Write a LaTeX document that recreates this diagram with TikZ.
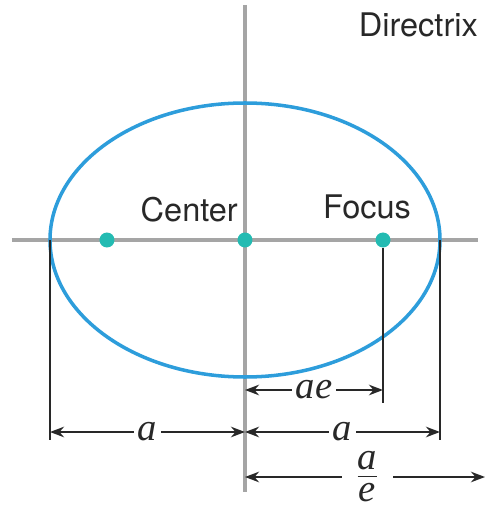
\documentclass[tikz,border=0pt]{standalone}
\usepackage{fontspec}
\setmainfont{TeX Gyre Heros}
\newfontfamily\dimfont{Liberation Serif}
\usetikzlibrary{arrows.meta}
\definecolor{ellblue}{RGB}{45,157,219}
\definecolor{dotteal}{RGB}{35,187,178}
\definecolor{axisgray}{RGB}{165,165,165}
\definecolor{dimgray}{RGB}{40,40,40}
\newcommand{\dimtxt}[1]{\mbox{\dimfont\itshape\fontsize{22}{26}\selectfont #1}}
\tikzset{
  axisline/.style={axisgray, line width=2pt},
  dimline/.style={dimgray, line width=1.2pt},
  dimlabel/.style={fill=white, inner sep=2pt, text=dimgray, font=\dimfont\itshape\fontsize{22}{26}\selectfont},
  pt/.style={circle, fill=dotteal, inner sep=0pt, minimum size=0.3cm},
  lbl/.style={font=\fontsize{18.5}{22}\selectfont, text=dimgray}
}
\begin{document}
\begin{tikzpicture}[>={Stealth[length=8pt,width=6pt]}]
    \useasboundingbox (-4.9,-5.36) rectangle (4.84,4.8);
    % axes
    \draw[axisline] (-4.66,0) -- (4.66,0);
    \draw[axisline] (0,4.7) -- (0,-5.04);
    % the ellipse
    \draw[ellblue, line width=2pt] (0,0) ellipse (3.9 and 2.74);
    \node[pt] (F1) at (-2.76,0) {};
    \node[pt] (C) at (0,0) {};
    \node[pt] (F2) at (2.76,0) {};
    \coordinate (V1) at (-3.9,0);
    \coordinate (V2) at (3.9,0);
    % drop lines
    \coordinate (V1b) at (-3.9,-4.0);
    \coordinate (V2b) at (3.9,-4.0);
    \coordinate (F2b) at (2.76,-3.26);
    \draw[dimline] (V1) -- (V1b);
    \draw[dimline] (V2) -- (V2b);
    \draw[dimline] (F2) -- (F2b);
    % dimensions
    \coordinate (ae0) at (0,-3.0);
    \coordinate (ae1) at (2.76,-3.0);
    \coordinate (aL0) at (-3.9,-3.84);
    \coordinate (aL1) at (0,-3.84);
    \coordinate (aR1) at (3.9,-3.84);
    \coordinate (ad0) at (0,-4.74);
    \coordinate (ad1) at (4.8,-4.74);
    \draw[dimline,<->] (ae0) -- node[dimlabel] (aelbl) {ae} (ae1);
    \draw[dimline,<->] (aL0) -- node[dimlabel] (alblL) {a} (aL1);
    \draw[dimline,<->] (aL1) -- node[dimlabel] (alblR) {a} (aR1);
    \draw[dimline,<->] (ad0) -- node[dimlabel, inner xsep=8pt, inner ysep=0pt, pos=0.51]
      (adlbl) {$\frac{\dimtxt{a\rule[-3pt]{0pt}{3pt}}}{\dimtxt{\rule{0pt}{14pt}e}}$} (ad1);
    % labels
    \node[lbl, anchor=east] (dirlbl) at (4.78,4.3) {Directrix};
    \node[lbl, anchor=east] (ctrlbl) at (-0.02,0.6) {Center};
    \node[lbl] (foclbl) at (2.44,0.66) {Focus};
\end{tikzpicture}
\end{document}
